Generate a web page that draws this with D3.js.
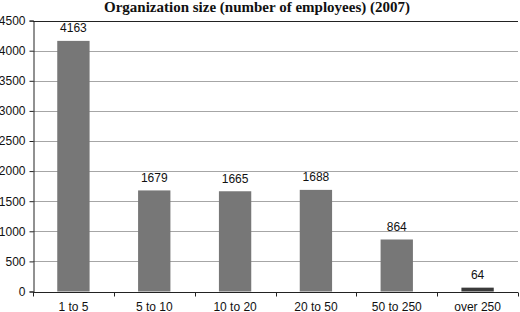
<!DOCTYPE html>
<html><head><meta charset="utf-8">
<script src="https://cdn.jsdelivr.net/npm/d3@7"></script>
<style>body{margin:0;background:#fff}svg{display:block}</style>
</head><body>
<script>
const categories = ["1 to 5","5 to 10","10 to 20","20 to 50","50 to 250","over 250"];
const values = [4163,1679,1665,1688,864,64];
const yTicks = [0,500,1000,1500,2000,2500,3000,3500,4000,4500];
const titleText = "Organization size (number of employees) (2007)";

const W=520,H=312;
const m={left:33,right:2,top:20.6,bottom:20.5};
const svg=d3.select("body").append("svg").attr("width",W).attr("height",H);
const x=d3.scaleBand().domain(categories).range([m.left,W-m.right]).paddingInner(0.6).paddingOuter(0.3);
const y=d3.scaleLinear().domain([0,4500]).range([H-m.bottom,m.top]);
const font="'Liberation Sans', Arial, sans-serif";

// gridlines
svg.append("g").selectAll("line").data(yTicks.filter(d=>d>0)).join("line")
  .attr("x1",m.left).attr("x2",W-m.right)
  .attr("y1",d=>Math.round(y(d))+0.5).attr("y2",d=>Math.round(y(d))+0.5)
  .attr("stroke",d=>d===4500?"#222":"#a6a6a6").attr("stroke-width",1);

// bars
svg.append("g").selectAll("rect").data(values).join("rect")
  .attr("x",(d,i)=>x(categories[i])).attr("width",x.bandwidth())
  .attr("y",d=>y(d)).attr("height",d=>y(0)-y(d))
  .attr("fill",(d,i)=>i===5?"#3a3a3a":"#777777");

// value labels
svg.append("g").selectAll("text").data(values).join("text")
  .attr("x",(d,i)=>x(categories[i])+x.bandwidth()/2).attr("y",d=>y(d)-8.5)
  .attr("text-anchor","middle").attr("font-family",font).attr("font-size",12).attr("fill","#111")
  .text(d=>d);

// y axis
const ya=svg.append("g").attr("transform",`translate(${m.left+0.5},0)`)
  .call(d3.axisLeft(y).tickValues(yTicks).tickFormat(d3.format("d")).tickSize(4).tickPadding(4));
ya.select(".domain").attr("stroke","#222");
ya.selectAll("line").attr("stroke","#222");
ya.selectAll("text").attr("font-family",font).attr("font-size",12).attr("fill","#111");

// x axis
const xa=svg.append("g").attr("transform",`translate(0,${Math.round(y(0))+0.5})`);
xa.append("line").attr("x1",m.left).attr("x2",W-m.right).attr("stroke","#222");
const bounds=d3.range(categories.length+1).map(i=>m.left+i*(W-m.left-m.right)/categories.length);
xa.selectAll("line.t").data(bounds).join("line").attr("class","t")
  .attr("x1",d=>Math.round(d)+0.5).attr("x2",d=>Math.round(d)+0.5).attr("y1",0).attr("y2",4).attr("stroke","#222");
xa.selectAll("text").data(categories).join("text")
  .attr("x",d=>x(d)+x.bandwidth()/2).attr("y",18)
  .attr("text-anchor","middle").attr("font-family",font).attr("font-size",12).attr("fill","#111")
  .text(d=>d);

svg.append("text").attr("x",257).attr("y",12).attr("text-anchor","middle")
  .attr("font-family","'Liberation Serif','Times New Roman',serif").attr("font-weight","bold").attr("font-size",15)
  .attr("fill","#111").text(titleText);
</script>
</body></html>
